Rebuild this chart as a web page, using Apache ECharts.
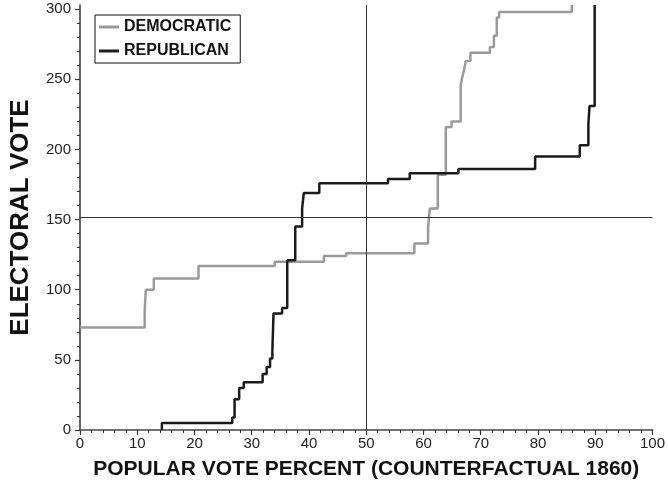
<!DOCTYPE html>
<html>
<head>
<meta charset="utf-8">
<script src="https://cdn.jsdelivr.net/npm/echarts@6/dist/echarts.min.js"></script>
<style>
  html, body { margin: 0; padding: 0; background: #fff; }
  #chart { width: 668px; height: 497px; }
</style>
</head>
<body>
<div id="chart"></div>
<script>
// Cumulative electoral vote against state popular vote percent (step curves).
// Each point: at this vote percent, the cumulative total steps up to this value.
const demPct   = [0, 11.3, 11.5, 12.9, 20.7, 34.0, 42.6, 46.5, 58.4, 60.8, 61.1, 62.5, 63.9, 64.9, 66.5, 66.8, 67.1, 67.4, 68.2, 71.6, 72.3, 72.8, 73.2, 85.9];
const demVotes = [73, 85, 100, 108, 117, 120, 124, 126, 133, 144, 158, 182, 216, 220, 246, 252, 257, 263, 269, 273, 281, 294, 298, 303];

const repPct   = [14.3, 14.3, 26.6, 27.0, 27.8, 28.6, 31.9, 32.6, 33.2, 33.6, 33.8, 35.3, 36.2, 37.6, 38.8, 39.1, 41.8, 53.8, 57.6, 66.1, 79.5, 87.3, 88.8, 89.0, 89.9];
const repVotes = [0, 5, 9, 22, 30, 34, 40, 45, 51, 56, 83, 87, 121, 145, 158, 169, 176, 179, 183, 186, 195, 203, 218, 231, 303];

const seriesNames = ['DEMOCRATIC', 'REPUBLICAN'];

// Axis ranges and ticks
const totalVotes = 303;
const majorityVotes = 152;
const evenSplitPct = 50;
const yMajorTicks = [0, 50, 100, 150, 200, 250, 300];
const yMinorTicks = [10, 20, 30, 40, 60, 70, 80, 90, 110, 120, 130, 140, 160, 170, 180, 190, 210, 220, 230, 240, 260, 270, 280, 290];

const xTitle = 'POPULAR VOTE PERCENT (COUNTERFACTUAL 1860)';
const yTitle = 'ELECTORAL VOTE';

const pairs = (xs, ys) => xs.map((x, i) => [x, ys[i]]);

const font = 'Liberation Sans, Arial, Helvetica, sans-serif';
const axisColor = '#333';

const chart = echarts.init(document.getElementById('chart'), null, { renderer: 'canvas' });

chart.setOption({
  animation: false,
  backgroundColor: '#fff',
  textStyle: { fontFamily: font },
  grid: { left: 77, right: 14, top: 5, bottom: 67, containLabel: false },
  legend: {
    data: seriesNames,
    orient: 'vertical',
    left: 95,
    top: 15,
    padding: [4, 9, 4, 4],
    itemGap: 8,
    itemWidth: 20,
    itemHeight: 3,
    icon: 'rect',
    borderColor: '#111',
    borderWidth: 1,
    textStyle: { fontFamily: font, fontSize: 16, fontWeight: 'bold', color: '#111' }
  },
  xAxis: [
    {
      type: 'value', min: 0, max: 100, interval: 10, position: 'bottom',
      axisLine: { show: true, lineStyle: { color: axisColor, width: 1.5 } },
      axisTick: { show: true, length: 5, lineStyle: { color: axisColor, width: 1.2 } },
      minorTick: { show: true, splitNumber: 5, length: 3, lineStyle: { color: axisColor, width: 1 } },
      splitLine: { show: false },
      axisLabel: { color: '#222', fontSize: 15, margin: 6, fontFamily: font },
      name: xTitle, nameLocation: 'middle', nameGap: 29,
      nameTextStyle: { fontSize: 21, fontWeight: 'bold', color: '#111', fontFamily: font }
    },
    {
      type: 'value', min: 0, max: 100, position: 'top',
      axisLine: { show: true, lineStyle: { color: '#777', width: 1.5 } },
      axisTick: { show: false }, axisLabel: { show: false }, splitLine: { show: false }
    }
  ],
  yAxis: [
    {
      type: 'value', min: 0, max: totalVotes, position: 'left',
      axisLine: { show: true, lineStyle: { color: axisColor, width: 1.5 } },
      axisTick: { show: true, length: 5, customValues: yMajorTicks, lineStyle: { color: axisColor, width: 1.2 } },
      axisLabel: { color: '#222', fontSize: 15, margin: 9, customValues: yMajorTicks, fontFamily: font },
      splitLine: { show: false },
      name: yTitle, nameLocation: 'middle', nameGap: 46,
      nameTextStyle: { fontSize: 26, fontWeight: 'bold', color: '#111', fontFamily: font }
    },
    {
      type: 'value', min: 0, max: totalVotes, position: 'left',
      axisLine: { show: false },
      axisTick: { show: true, length: 3, customValues: yMinorTicks, lineStyle: { color: axisColor, width: 1 } },
      axisLabel: { show: false }, splitLine: { show: false }
    }
  ],
  series: [
    {
      name: 'reference',
      type: 'line',
      data: [],
      silent: true,
      markLine: {
        silent: true,
        symbol: ['none', 'none'],
        label: { show: false },
        lineStyle: { type: 'solid', color: '#333', width: 1 },
        data: [{ xAxis: evenSplitPct }, { yAxis: majorityVotes }]
      }
    },
    {
      name: seriesNames[0],
      type: 'line',
      step: 'end',
      showSymbol: false,
      symbol: 'none',
      color: '#9a9a9a',
      lineStyle: { color: '#9a9a9a', width: 2.5 },
      data: pairs(demPct, demVotes),
      z: 3
    },
    {
      name: seriesNames[1],
      type: 'line',
      step: 'end',
      showSymbol: false,
      symbol: 'none',
      color: '#1a1a1a',
      lineStyle: { color: '#1a1a1a', width: 2.5 },
      data: pairs(repPct, repVotes),
      z: 4
    }
  ]
});
</script>
</body>
</html>
